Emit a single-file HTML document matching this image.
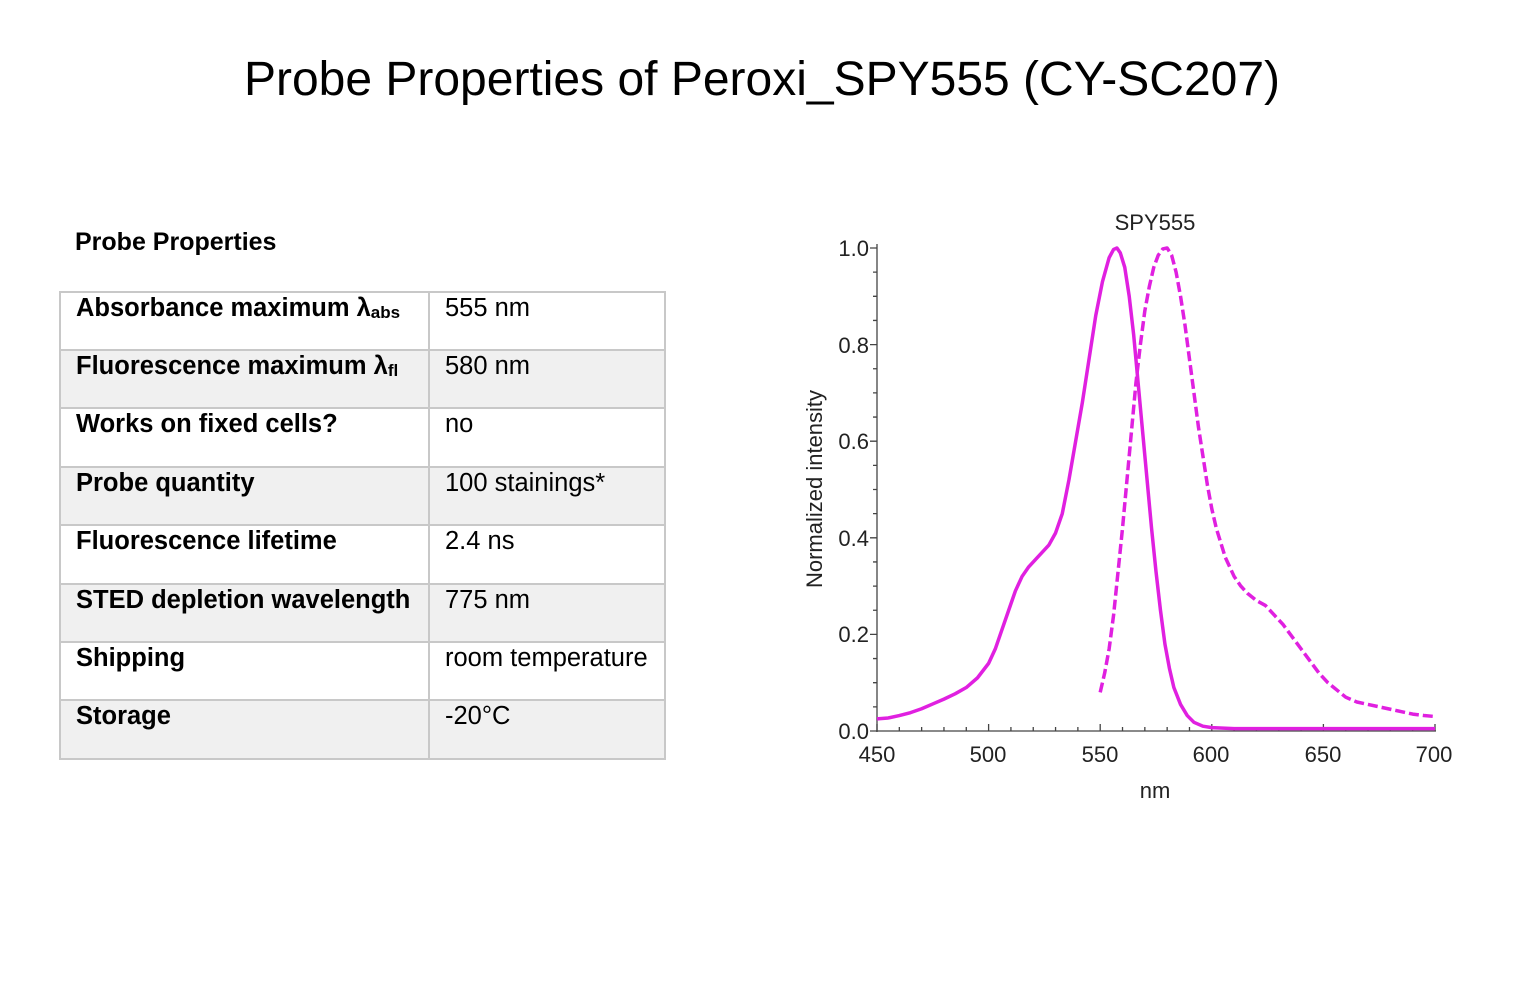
<!DOCTYPE html>
<html><head><meta charset="utf-8"><style>
body{margin:0;background:#fff;width:1524px;height:1000px;overflow:hidden;font-family:"Liberation Sans",Arial,sans-serif;}
.t{position:absolute;left:0;width:1524px;text-align:center;top:52px;font-size:48px;color:#000;}
.h{position:absolute;left:75px;top:228px;font-size:25px;font-weight:bold;}
table{position:absolute;left:59px;top:291px;border-collapse:collapse;}
td{border:2px solid #c8c8c8;height:54px;vertical-align:top;padding:1px 10px 0 15px;font-size:25.5px;box-sizing:border-box;white-space:nowrap;}
td.a{width:369px;font-weight:bold;}
td.b{width:236px;}
tr.g td{background:#f0f0f0;}
sub{font-size:17px;vertical-align:-2px;}
</style></head><body>
<div class="t">Probe Properties of Peroxi_SPY555 (CY-SC207)</div>
<div class="h">Probe Properties</div>
<table>
<tr style="height:58px"><td class="a">Absorbance maximum λ<sub>abs</sub></td><td class="b">555 nm</td></tr>
<tr class="g" style="height:58px"><td class="a">Fluorescence maximum λ<sub>fl</sub></td><td class="b">580 nm</td></tr>
<tr style="height:59px"><td class="a">Works on fixed cells?</td><td class="b">no</td></tr>
<tr class="g" style="height:58px"><td class="a">Probe quantity</td><td class="b">100 stainings*</td></tr>
<tr style="height:59px"><td class="a">Fluorescence lifetime</td><td class="b">2.4 ns</td></tr>
<tr class="g" style="height:58px"><td class="a">STED depletion wavelength</td><td class="b">775 nm</td></tr>
<tr style="height:58px"><td class="a">Shipping</td><td class="b">room temperature</td></tr>
<tr class="g" style="height:59px"><td class="a">Storage</td><td class="b">-20°C</td></tr>
</table>
<svg width="1524" height="1000" style="position:absolute;left:0;top:0" font-family="Liberation Sans, Arial, sans-serif">
<g stroke="#444" stroke-width="1.3" fill="none">
<line x1="877" y1="244" x2="877" y2="732"/>
<line x1="876" y1="731" x2="1436" y2="731"/>
<path d="M877,731h-7
m7,-24.15h-4m4,-24.15h-4m4,-24.15h-4m4,-24.15h-7
m7,-24.15h-4m4,-24.15h-4m4,-24.15h-4m4,-24.15h-7
m7,-24.15h-4m4,-24.15h-4m4,-24.15h-4m4,-24.15h-7
m7,-24.15h-4m4,-24.15h-4m4,-24.15h-4m4,-24.15h-7
m7,-24.15h-4m4,-24.15h-4m4,-24.15h-4m4,-24.15h-7"/>
<path d="M877,731v-7
m22.32,7v-4m22.32,4v-4m22.32,4v-4m22.32,4v-4m22.32,4v-7
m22.32,7v-4m22.32,4v-4m22.32,4v-4m22.32,4v-4m22.32,4v-7
m22.32,7v-4m22.32,4v-4m22.32,4v-4m22.32,4v-4m22.32,4v-7
m22.32,7v-4m22.32,4v-4m22.32,4v-4m22.32,4v-4m22.32,4v-7
m22.32,7v-4m22.32,4v-4m22.32,4v-4m22.32,4v-4m22.32,4v-7"/>
</g>
<g font-size="22" fill="#222" text-anchor="end">
<text x="869" y="739">0.0</text><text x="869" y="642">0.2</text><text x="869" y="546">0.4</text>
<text x="869" y="449">0.6</text><text x="869" y="353">0.8</text><text x="869" y="256">1.0</text>
</g>
<g font-size="22" fill="#222" text-anchor="middle">
<text x="877" y="762">450</text><text x="988" y="762">500</text><text x="1100" y="762">550</text>
<text x="1211" y="762">600</text><text x="1323" y="762">650</text><text x="1434" y="762">700</text>
<text x="1155" y="798">nm</text>
<text x="1155" y="230" font-size="22">SPY555</text>
<text transform="translate(822,489) rotate(-90)" font-size="22">Normalized  intensity</text>
</g>
<g transform="translate(877,731) scale(2.232,-483) translate(-450,0)" fill="none" stroke="#e020e0" stroke-width="3.5" stroke-linejoin="round">
<polyline vector-effect="non-scaling-stroke" points="450,.025 455,.027 460,.032 465,.038 470,.046 475,.056 480,.066 485,.077 490,.09 495,.11 500,.14 503,.17 506,.21 509,.25 512,.29 515,.32 518,.34 521,.355 524,.37 527,.385 530,.41 533,.45 536,.52 539,.6 542,.68 545,.77 548,.86 551,.93 554,.98 556,.997 557.5,1 559,.99 561,.96 563,.9 565,.82 567,.72 569,.62 571,.52 573,.42 575,.33 577,.25 579,.18 581,.13 583,.09 586,.055 589,.032 592,.018 596,.01 600,.007 610,.005 700,.005"/>
<polyline vector-effect="non-scaling-stroke" stroke-dasharray="10,4" points="550,.08 552,.12 554,.17 556,.24 558,.33 560,.42 562,.52 564,.62 566,.72 568,.8 570,.87 572,.92 574,.96 576,.985 578,.998 580,1 582,.985 584,.95 586,.9 588,.84 590,.77 592,.7 594,.63 596,.57 598,.51 600,.46 602,.42 604,.39 606,.36 608,.34 610,.32 613,.3 616,.285 620,.27 624,.26 628,.24 632,.22 636,.195 640,.17 644,.145 648,.12 652,.1 656,.085 660,.07 665,.06 670,.055 675,.05 680,.045 685,.04 690,.035 695,.032 700,.03"/>
</g>
</svg>
</body></html>
